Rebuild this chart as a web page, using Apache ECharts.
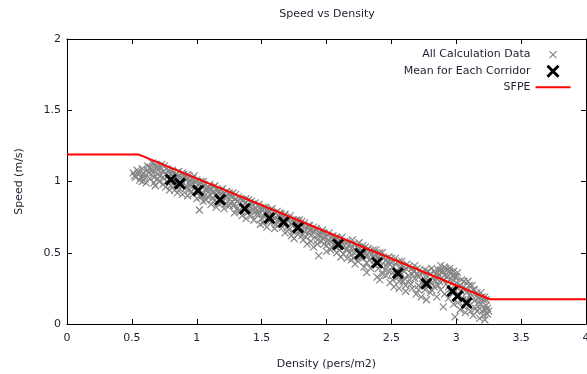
<!DOCTYPE html>
<html><head><meta charset="utf-8">
<script src="https://cdn.jsdelivr.net/npm/echarts@6/dist/echarts.min.js"></script>
<style>html,body{margin:0;padding:0;background:#fff}#c{width:587px;height:374px}</style>
</head><body><div id="c"></div><script>
// ---- data ----
const allCalculationData = [
[0.51,1.06],[0.53,1.03],[0.54,1.08],[0.56,1.01],[0.55,1.05],
[0.58,1.09],[0.60,1.04],[0.61,0.99],[0.62,1.11],[0.63,1.06],[0.60,1.02],
[0.65,1.08],[0.66,1.13],[0.67,1.03],[0.68,0.97],[0.69,1.10],[0.70,1.05],[0.71,1.00],
[0.73,1.12],[0.74,1.07],[0.75,1.02],[0.76,0.96],[0.77,1.09],[0.78,1.04],[0.79,0.94],
[0.81,1.08],[0.82,1.01],[0.83,0.97],[0.84,1.05],[0.85,0.92],[0.86,1.07],[0.87,0.99],[0.88,1.03],
[0.90,1.05],[0.91,0.95],[0.92,1.01],[0.93,0.90],[0.94,1.04],[0.95,0.97],[0.96,0.93],[0.97,1.02],
[0.99,0.99],[1.00,0.88],[1.01,0.95],[1.02,0.80],[1.03,1.00],[1.04,0.91],[1.05,0.86],[1.06,0.97],
[1.08,0.94],[1.09,0.89],[1.10,0.98],[1.11,0.84],[1.12,0.92],[1.13,0.96],[1.14,0.87],[1.15,0.82],
[1.17,0.93],[1.18,0.88],[1.19,0.85],[1.20,0.95],[1.21,0.81],[1.22,0.90],[1.24,0.86],[1.25,0.92],
[1.27,0.89],[1.28,0.83],[1.29,0.78],[1.30,0.91],[1.31,0.86],[1.33,0.80],[1.34,0.88],[1.35,0.76],
[1.37,0.85],[1.38,0.74],[1.39,0.82],[1.40,0.87],[1.41,0.79],[1.43,0.84],[1.44,0.73],[1.45,0.81],
[1.47,0.83],[1.48,0.77],[1.49,0.70],[1.50,0.80],[1.52,0.75],[1.53,0.82],[1.54,0.68],[1.55,0.78],
[1.57,0.80],[1.58,0.72],[1.59,0.76],[1.60,0.67],[1.62,0.79],[1.63,0.73],[1.64,0.70],[1.65,0.77],
[1.67,0.75],[1.68,0.64],[1.69,0.71],[1.70,0.68],[1.72,0.76],[1.73,0.62],[1.74,0.73],[1.75,0.60],
[1.77,0.70],[1.78,0.63],[1.79,0.73],[1.80,0.66],[1.82,0.59],[1.83,0.71],[1.84,0.68],[1.85,0.56],
[1.87,0.69],[1.88,0.62],[1.89,0.65],[1.90,0.54],[1.92,0.67],[1.93,0.59],[1.94,0.48],[1.95,0.63],
[1.97,0.66],[1.98,0.56],[1.99,0.61],[2.00,0.51],[2.02,0.64],[2.03,0.58],[2.04,0.54],[2.05,0.62],
[2.07,0.60],[2.08,0.50],[2.10,0.57],[2.11,0.47],[2.12,0.61],[2.13,0.54],[2.15,0.52],[2.16,0.58],
[2.18,0.56],[2.19,0.45],[2.20,0.59],[2.21,0.50],[2.22,0.42],[2.23,0.54],[2.25,0.57],[2.26,0.47],
[2.28,0.55],[2.29,0.40],[2.30,0.50],[2.31,0.36],[2.32,0.53],[2.33,0.45],[2.35,0.49],[2.36,0.42],
[2.38,0.52],[2.39,0.33],[2.40,0.47],[2.41,0.31],[2.42,0.41],[2.43,0.50],[2.45,0.38],[2.46,0.45],
[2.48,0.47],[2.49,0.29],[2.50,0.43],[2.51,0.36],[2.52,0.26],[2.53,0.46],[2.55,0.33],[2.56,0.25],[2.57,0.40],
[2.58,0.44],[2.59,0.30],[2.60,0.37],[2.61,0.23],[2.62,0.42],[2.63,0.34],[2.65,0.28],[2.66,0.39],
[2.68,0.41],[2.69,0.21],[2.70,0.35],[2.71,0.27],[2.72,0.38],[2.73,0.19],[2.75,0.32],[2.76,0.24],
[2.77,0.17],[2.78,0.37],[2.79,0.30],[2.80,0.22],[2.81,0.39],[2.82,0.33],[2.83,0.26],[2.84,0.35],[2.85,0.19],
[2.86,0.38],[2.87,0.30],[2.88,0.24],[2.89,0.36],[2.90,0.12],[2.91,0.40],[2.92,0.28],[2.93,0.33],[2.94,0.18],[2.95,0.37],
[2.96,0.25],[2.97,0.34],[2.98,0.14],[2.99,0.05],[3.00,0.29],[3.01,0.36],[3.02,0.21],[3.03,0.10],[3.04,0.31],[3.05,0.17],
[3.06,0.26],[3.07,0.08],[3.08,0.22],[3.09,0.30],[3.10,0.13],[3.11,0.19],[3.12,0.27],[3.13,0.06],[3.14,0.24],[3.15,0.11],
[3.16,0.20],[3.17,0.15],[3.18,0.04],[3.19,0.22],[3.20,0.09],[3.21,0.17],[3.22,0.03],[3.23,0.13],[3.24,0.07],[3.22,0.19],
[0.52,1.04],[0.55,1.07],[0.57,1.03],[0.59,1.06],[0.58,1.00],
[0.62,1.08],[0.64,1.02],[0.64,1.10],[0.66,1.06],[0.67,0.99],[0.68,1.12],[0.70,1.02],[0.70,1.08],
[0.72,1.04],[0.72,1.10],[0.74,0.98],[0.75,1.11],[0.76,1.05],[0.77,1.00],[0.78,1.08],[0.80,0.97],[0.80,1.05],
[0.82,1.06],[0.83,0.94],[0.84,1.02],[0.85,0.98],[0.86,1.04],[0.87,0.95],[0.88,1.00],[0.89,1.06],[0.89,0.91],
[0.91,1.03],[0.92,0.97],[0.93,1.05],[0.94,0.94],[0.95,1.01],[0.96,0.99],[0.97,0.91],[0.98,1.04],[0.98,0.95],
[1.00,1.01],[1.01,0.92],[1.02,0.98],[1.03,0.89],[1.04,0.96],[1.05,1.00],[1.06,0.90],[1.07,0.95],[1.07,0.87],
[1.09,0.96],[1.10,0.91],[1.11,0.95],[1.12,0.88],[1.13,0.93],[1.14,0.97],[1.15,0.90],[1.16,0.85],[1.16,0.94],
[1.18,0.91],[1.19,0.94],[1.20,0.87],[1.21,0.92],[1.22,0.84],[1.23,0.89],[1.23,0.93],[1.25,0.83],[1.26,0.90],
[1.27,0.86],[1.28,0.92],[1.29,0.84],[1.30,0.88],[1.31,0.81],[1.32,0.89],[1.33,0.85],[1.34,0.79],[1.36,0.87],
[1.37,0.82],[1.38,0.88],[1.39,0.78],[1.40,0.83],[1.42,0.86],[1.42,0.76],[1.44,0.80],[1.45,0.85],[1.46,0.77],
[1.47,0.80],[1.48,0.84],[1.50,0.74],[1.51,0.82],[1.51,0.71],[1.53,0.78],[1.54,0.80],[1.56,0.72],[1.56,0.79],
[1.57,0.76],[1.58,0.81],[1.60,0.74],[1.61,0.78],[1.61,0.70],[1.63,0.76],[1.64,0.78],[1.66,0.68],[1.66,0.74],
[1.67,0.72],[1.68,0.77],[1.70,0.73],[1.71,0.66],[1.71,0.74],[1.73,0.70],[1.74,0.65],[1.76,0.72],[1.76,0.67],
[1.77,0.73],[1.78,0.68],[1.80,0.70],[1.81,0.62],[1.81,0.72],[1.83,0.65],[1.84,0.61],[1.86,0.69],[1.86,0.64],
[1.87,0.66],[1.88,0.58],[1.90,0.68],[1.91,0.61],[1.91,0.65],[1.93,0.56],[1.94,0.62],[1.96,0.58],[1.96,0.65],
[1.97,0.60],[1.98,0.64],[2.00,0.55],[2.01,0.62],[2.01,0.58],[2.03,0.52],[2.04,0.61],[2.06,0.56],[2.06,0.60],
[2.07,0.54],[2.08,0.61],[2.10,0.52],[2.11,0.58],[2.11,0.55],[2.13,0.49],[2.14,0.58],[2.16,0.53],[2.16,0.46],
[2.17,0.55],[2.18,0.50],[2.20,0.54],[2.21,0.56],[2.21,0.46],[2.23,0.51],[2.24,0.44],[2.26,0.53],[2.26,0.50],
[2.27,0.52],[2.28,0.46],[2.30,0.54],[2.31,0.43],[2.31,0.48],[2.33,0.51],[2.34,0.39],[2.36,0.47],[2.36,0.52],
[2.37,0.45],[2.38,0.48],[2.40,0.39],[2.41,0.44],[2.41,0.50],[2.43,0.35],[2.44,0.46],[2.46,0.41],[2.46,0.34],
[2.47,0.43],[2.48,0.37],[2.50,0.46],[2.51,0.40],[2.51,0.31],[2.53,0.42],[2.54,0.37],[2.56,0.44],[2.56,0.30],
[2.57,0.36],[2.58,0.41],[2.60,0.32],[2.61,0.39],[2.61,0.27],[2.63,0.40],[2.64,0.31],[2.66,0.35],[2.66,0.25],
[2.67,0.37],[2.68,0.32],[2.70,0.39],[2.71,0.24],[2.71,0.33],[2.73,0.36],[2.74,0.28],[2.76,0.38],[2.76,0.31],
[2.77,0.34],[2.78,0.27],[2.80,0.35],[2.81,0.29],[2.81,0.24],[2.83,0.37],[2.84,0.30],[2.86,0.27],[2.86,0.34],
[2.87,0.35],[2.88,0.38],[2.90,0.31],[2.91,0.34],[2.91,0.21],[2.93,0.38],[2.94,0.26],[2.96,0.32],[2.96,0.36],
[2.88,0.41],[2.92,0.39],[2.95,0.39],[2.98,0.37],[2.90,0.37],[2.99,0.33],
[2.97,0.29],[2.98,0.22],[3.00,0.33],[3.01,0.25],[3.01,0.15],[3.03,0.27],[3.04,0.23],[3.06,0.30],[3.06,0.12],
[3.07,0.24],[3.08,0.17],[3.10,0.27],[3.11,0.21],[3.11,0.09],[3.13,0.24],[3.14,0.16],[3.16,0.22],[3.16,0.09],
[3.17,0.18],[3.18,0.11],[3.19,0.14],[3.20,0.19],[3.21,0.06],[3.22,0.10],[3.23,0.17],[3.24,0.11],[3.25,0.09]
];
const meanDensity = [0.80,0.87,1.01,1.18,1.37,1.56,1.67,1.78,2.09,2.26,2.39,2.55,2.77,2.97,3.01,3.08];
const meanSpeed   = [1.013,0.985,0.937,0.872,0.809,0.743,0.715,0.676,0.559,0.493,0.430,0.357,0.283,0.231,0.196,0.147];
const sfpeDensity = [0, 0.55, 3.26, 4];
const sfpeSpeed   = [1.19, 1.19, 0.174, 0.174];
const xRange = {min:0, max:4, step:0.5};
const yRange = {min:0, max:2, step:0.5};
const names = {title:'Speed vs Density', x:'Density (pers/m2)', y:'Speed (m/s)',
  all:'All Calculation Data', mean:'Mean for Each Corridor', sfpe:'SFPE'};

// ---- chart ----
const FONT = 'DejaVu Sans';
const TXT = '#1e1e30';
const chart = echarts.init(document.getElementById('c'), null, {renderer:'canvas'});
const X_PATH = 'path://M0,0L10,10M10,0L0,10';
const frameAxis = (extra) => Object.assign({
  type:'value', axisLine:{show:true, onZero:false, lineStyle:{color:'#000', width:1}},
  axisTick:{show:true, inside:true, length:5, lineStyle:{color:'#000', width:1}},
  splitLine:{show:false}
}, extra);
chart.setOption({
  animation:false,
  backgroundColor:'#fff',
  title:{text:names.title, left:327, textAlign:'center', top:9, padding:0,
    textStyle:{fontFamily:FONT, fontSize:11, fontWeight:'normal', color:TXT}},
  grid:{left:67, right:1, top:39, bottom:50, containLabel:false, outerBoundsMode:'none'},
  legend:{orient:'vertical', right:16.5, top:48, align:'right', padding:0,
    itemWidth:35, itemHeight:12, itemGap:2.5, selectedMode:false,
    textStyle:{fontFamily:FONT, fontSize:11, color:TXT, lineHeight:12},
    data:[
      {name:names.all, icon:'path://M2.5,2.5L9.5,9.5M9.5,2.5L2.5,9.5M0,0M12,12', itemStyle:{borderWidth:1.2}},
      {name:names.mean, icon:'path://M0.5,0.5L11.5,11.5M11.5,0.5L0.5,11.5M0,0M12,12', itemStyle:{borderWidth:3}},
      {name:names.sfpe, icon:'path://M0,5L35,5L35,7L0,7ZM0,0M35,12', itemStyle:{borderWidth:0, color:'#ff0000'}}
    ]},
  xAxis:[
    frameAxis({position:'bottom', min:xRange.min, max:xRange.max, interval:xRange.step,
      axisLabel:{show:true, margin:9, fontFamily:FONT, fontSize:11, color:TXT, showMaxLabel:true, showMinLabel:true},
      name:names.x, nameLocation:'middle', nameGap:35,
      nameTextStyle:{fontFamily:FONT, fontSize:11, color:TXT}}),
    frameAxis({position:'top', min:xRange.min, max:xRange.max, interval:xRange.step, axisLabel:{show:false}})
  ],
  yAxis:[
    frameAxis({position:'left', min:yRange.min, max:yRange.max, interval:yRange.step,
      axisLabel:{show:true, margin:6, fontFamily:FONT, fontSize:11, color:TXT},
      name:names.y, nameLocation:'middle', nameGap:42, nameRotate:90,
      nameTextStyle:{fontFamily:FONT, fontSize:11, color:TXT}}),
    frameAxis({position:'right', min:yRange.min, max:yRange.max, interval:yRange.step, axisLabel:{show:false}})
  ],
  series:[
    {name:names.all, type:'scatter', xAxisIndex:0, yAxisIndex:0, data:allCalculationData,
      symbol:X_PATH, symbolSize:7, silent:true,
      itemStyle:{color:'#858585', borderColor:'#858585', borderWidth:1.2, opacity:1},
      emphasis:{disabled:true}},
    {name:names.mean, type:'scatter', xAxisIndex:0, yAxisIndex:0,
      data:meanDensity.map((d,i)=>[d, meanSpeed[i]]),
      symbol:X_PATH, symbolSize:10, silent:true,
      itemStyle:{color:'#000', borderColor:'#000', borderWidth:3, opacity:1},
      emphasis:{disabled:true}},
    {name:names.sfpe, type:'line', xAxisIndex:0, yAxisIndex:0,
      data:sfpeDensity.map((d,i)=>[d, sfpeSpeed[i]]),
      symbol:'none', silent:true, lineStyle:{color:'#ff0000', width:2}, itemStyle:{color:'#ff0000'},
      emphasis:{disabled:true}}
  ]
});
</script></body></html>
